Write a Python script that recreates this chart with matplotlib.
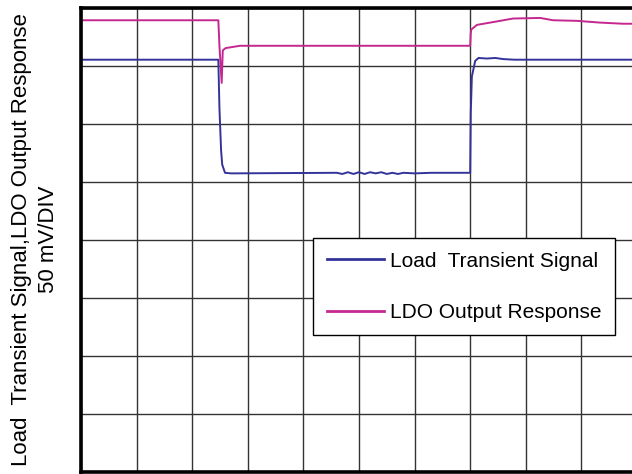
import matplotlib.pyplot as plt

# trace values in scope divisions (x: 10 div, y: 8 div, 50 mV/DIV)
load_x = [0, 2.47, 2.49, 2.52, 2.54, 2.59, 2.7, 4.6, 4.7, 4.8, 4.9, 5.0, 5.1,
          5.2, 5.3, 5.4, 5.5, 5.6, 5.7, 5.8, 6.0, 6.3, 6.7, 7.0, 7.01, 7.03,
          7.09, 7.15, 7.3, 7.45, 7.6, 7.8, 10]
load_y = [7.10, 7.10, 6.26, 5.53, 5.29, 5.15, 5.14, 5.15, 5.13, 5.16, 5.13,
          5.16, 5.13, 5.16, 5.14, 5.16, 5.13, 5.15, 5.13, 5.15, 5.14, 5.15,
          5.15, 5.15, 6.18, 6.81, 7.08, 7.13, 7.12, 7.13, 7.11, 7.10, 7.10]

ldo_x = [0, 2.47, 2.49, 2.53, 2.55, 2.6, 2.86, 3.3, 7.0, 7.01, 7.02, 7.12,
         7.48, 7.77, 8.26, 8.49, 8.92, 9.33, 9.75, 10]
ldo_y = [7.78, 7.78, 7.34, 6.70, 7.26, 7.30, 7.34, 7.34, 7.34, 7.55, 7.62,
         7.70, 7.76, 7.81, 7.82, 7.78, 7.77, 7.74, 7.72, 7.72]

series_names = ["Load  Transient Signal", "LDO Output Response"]
blue = "#33339a"
pink = "#c4288f"

plt.rcParams['font.family'] = ['Liberation Sans', 'DejaVu Sans']

fig = plt.figure(figsize=(6.32, 4.74), dpi=100)
ax = fig.add_axes([81 / 632, 2.5 / 474, 556 / 632, 464 / 474])

ax.plot(load_x, load_y, color=blue, lw=1.4, label=series_names[0])
ax.plot(ldo_x, ldo_y, color=pink, lw=1.4, label=series_names[1])

ax.set_xlim(0, 10)
ax.set_ylim(0, 8)
ax.set_xticks(range(11))
ax.set_yticks(range(9))
ax.tick_params(length=0, labelbottom=False, labelleft=False)
ax.grid(True, color="#333333", lw=1.0)

for side in ['left', 'top', 'bottom', 'right']:
    ax.spines[side].set_linewidth(2.6)
    ax.spines[side].set_color('black')

ax.set_ylabel("Load  Transient Signal,LDO Output Response\n50 mV/DIV",
              fontsize=16, linespacing=1.4)
ax.yaxis.set_label_coords(-22 / 556, 0.5)

leg = ax.legend(loc='upper left', bbox_to_anchor=(313 / 632, 1 - 238 / 474),
                bbox_transform=fig.transFigure, fontsize=15, frameon=True,
                fancybox=False, edgecolor='black', framealpha=1,
                handlelength=2.74, handletextpad=0.29, labelspacing=1.55,
                borderpad=0.65, borderaxespad=0)
leg.get_frame().set_linewidth(1.0)
for line in leg.get_lines():
    line.set_linewidth(2.0)

fig.savefig("out.png", dpi=100)
